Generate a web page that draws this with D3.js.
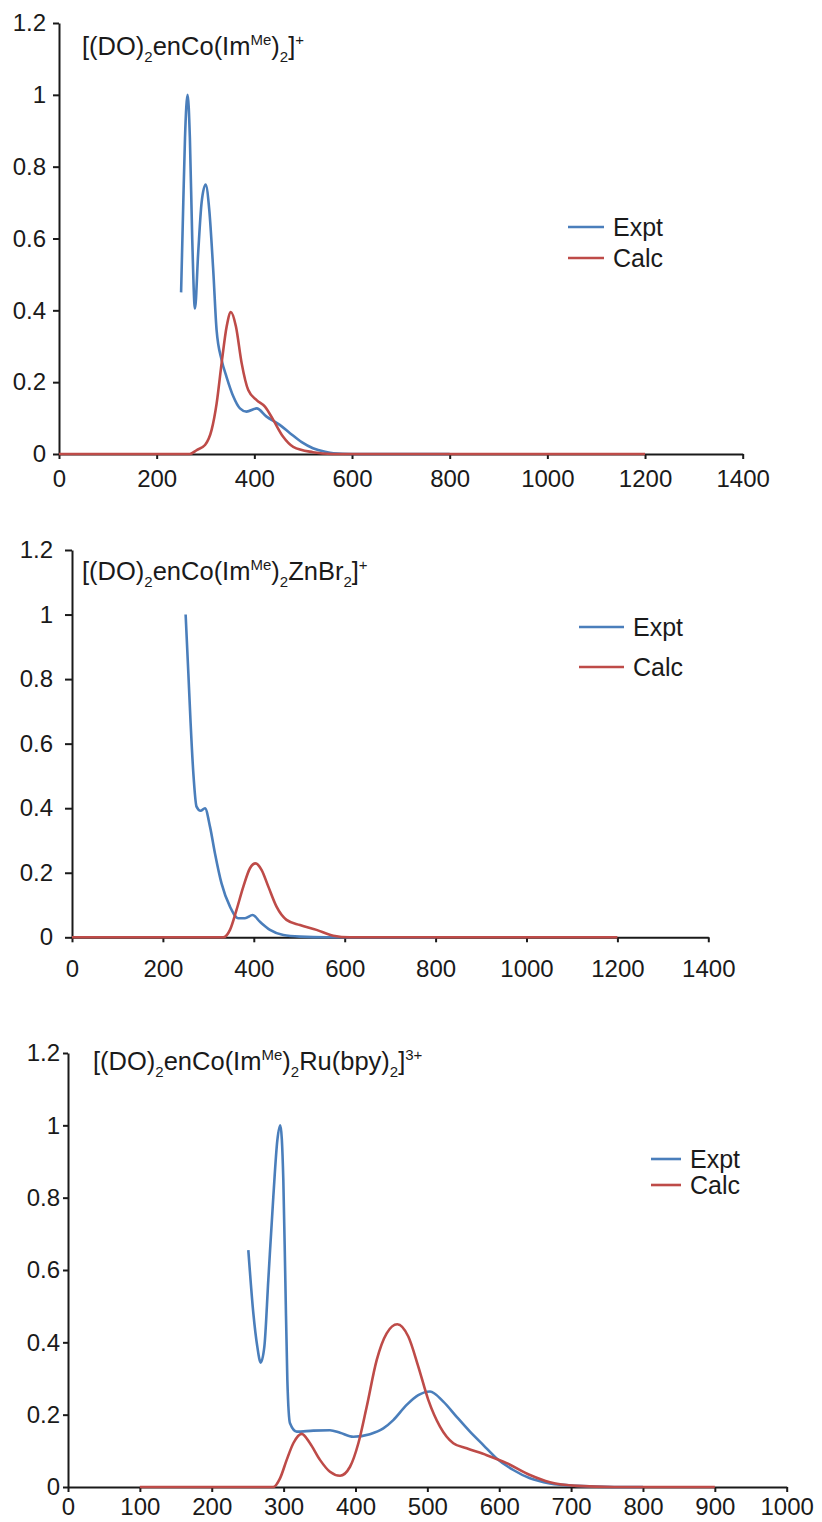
<!DOCTYPE html>
<html>
<head>
<meta charset="utf-8">
<script src="https://cdn.jsdelivr.net/npm/d3@7"></script>
<style>
body { margin: 0; background: #fff; }
text { font-family: "Liberation Sans", Arial, sans-serif; fill: #1a1a1a; }
</style>
</head>
<body>
<div id="drawarea"></div>
<script>
// Spectra: [wavelength nm, normalised absorbance]
let expt1 = [[250,0.45],[254.5,0.70],[258,0.88],[263.4,1.0],[268,0.88],[272.8,0.60],[278.4,0.405],
    [285,0.56],[292,0.70],[300.2,0.75],[307.7,0.68],[315.9,0.51],[322.7,0.345],[333,0.262],[343,0.215],
    [357,0.16],[370.5,0.127],[384,0.118],[404.7,0.127],[425,0.104],[452,0.081],[473,0.058],[497,0.033],
    [520,0.016],[545,0.006],[562,0.002],[600,0],[800,0]];
let calc1 = [[0,0],[268,0],[282,0.011],[299,0.025],[312.5,0.067],[322.8,0.141],[333,0.253],[343.3,0.355],
    [352,0.395],[362.3,0.355],[374,0.253],[387.5,0.178],[404.7,0.150],[421.7,0.132],[438.7,0.095],
    [459,0.048],[479.6,0.020],[520,0.005],[560,0],[1200,0]];

let expt2 = [[250,1.0],[256,0.818],[261,0.663],[267,0.508],[274,0.405],[283,0.392],[292.6,0.40],
    [303.6,0.343],[314.6,0.26],[329,0.167],[347.6,0.095],[366,0.059],[380.6,0.059],[397.5,0.069],
    [413.6,0.048],[435.6,0.023],[465,0.007],[501.6,0.002],[560,0],[800,0]];
let calc2 = [[0,0],[333,0],[347.6,0.023],[362,0.085],[377,0.157],[391.6,0.214],[404,0.229],[417,0.209],
    [432,0.157],[450,0.095],[472,0.054],[501.6,0.038],[538,0.023],[575,0.005],[611,0],[1200,0]];

let expt3 = [[250.9,0.655],[257.9,0.48],[263.4,0.388],[268.1,0.344],[273.2,0.388],[278.7,0.572],
    [285.7,0.803],[291.3,0.959],[295.4,1.0],[299.6,0.849],[302.4,0.572],[305.2,0.296],[308.9,0.176],
    [318.2,0.153],[341.3,0.156],[364.5,0.157],[378.5,0.15],[397,0.139],[420,0.146],[438.7,0.162],
    [452.6,0.185],[471.2,0.227],[487.4,0.254],[503.7,0.264],[522.2,0.236],[540.8,0.194],[559.3,0.153],
    [577.9,0.116],[596.5,0.079],[619.6,0.047],[642.8,0.024],[670.6,0.01],[707.8,0.003],[760,0],[800,0]];
let calc3 = [[100,0],[285.7,0],[295,0.024],[304.3,0.075],[313.5,0.121],[325.1,0.147],[336.7,0.121],
    [350.6,0.075],[364.5,0.042],[378.5,0.031],[392.4,0.056],[404,0.121],[415.6,0.222],[429.5,0.351],
    [443.4,0.425],[458.2,0.45],[473.5,0.416],[487.4,0.333],[501.3,0.241],[517.6,0.167],[536.1,0.121],
    [554.7,0.107],[582.6,0.088],[610.4,0.066],[642.8,0.033],[670.6,0.013],[708,0.003],[760,0],[900,0]];

let xTicksWide = [0,200,400,600,800,1000,1200,1400];
let xTicksNarrow = [0,100,200,300,400,500,600,700,800,900,1000];
let yTicks = [0,0.2,0.4,0.6,0.8,1,1.2];
let seriesNames = ["Expt","Calc"];
let seriesColors = ["#4a7ebb","#be4b48"];

// Titles as pieces: [text, "n" normal | "sub" | "sup"]
let title1 = [["[(DO)","n"],["2","sub"],["enCo(Im","n"],["Me","sup"],[")","n"],["2","sub"],["]","n"],["+","sup"]];
let title2 = [["[(DO)","n"],["2","sub"],["enCo(Im","n"],["Me","sup"],[")","n"],["2","sub"],["ZnBr","n"],["2","sub"],["]","n"],["+","sup"]];
let title3 = [["[(DO)","n"],["2","sub"],["enCo(Im","n"],["Me","sup"],[")","n"],["2","sub"],["Ru(bpy)","n"],["2","sub"],["]","n"],["3+","sup"]];

let svg = d3.select("div#drawarea").append("svg")
    .attr("width", 822)
    .attr("height", 1522);

let panels = [
    {expt: expt1, calc: calc1, title: title1, xMax: 1400, xTicks: xTicksWide,
     left: 59, right: 742.7, bottom: 454, top: 23, xPad: 11, yTick: 6, yPad: 7,
     titleX: 82, titleY: 55, legX: 568, legY: 227, legGap: 31, legLen: 36},
    {expt: expt2, calc: calc2, title: title2, xMax: 1400, xTicks: xTicksWide,
     left: 72, right: 708.3, bottom: 937.3, top: 550, xPad: 18, yTick: 7, yPad: 12,
     titleX: 82, titleY: 580, legX: 579, legY: 627, legGap: 40, legLen: 45},
    {expt: expt3, calc: calc3, title: title3, xMax: 1000, xTicks: xTicksNarrow,
     left: 68, right: 786.7, bottom: 1487, top: 1053, xPad: 6, yTick: 5, yPad: 3,
     titleX: 93, titleY: 1070, legX: 651, legY: 1159, legGap: 26, legLen: 30}
];

panels.forEach(p => {
    let x = d3.scaleLinear().domain([0, p.xMax]).range([p.left, p.right]);
    let y = d3.scaleLinear().domain([0, 1.2]).range([p.bottom, p.top]);
    let g = svg.append("g");

    //Axes, drawn first so the curves sit on top of the zero line
    let xAxis = g.append("g")
        .attr("transform", "translate(0," + p.bottom + ")")
        .call(d3.axisBottom(x).tickValues(p.xTicks).tickSize(5).tickSizeOuter(0)
            .tickPadding(p.xPad).tickFormat(d => String(d)));
    let yAxis = g.append("g")
        .attr("transform", "translate(" + p.left + ",0)")
        .call(d3.axisLeft(y).tickValues(yTicks).tickSize(p.yTick).tickSizeOuter(0)
            .tickPadding(p.yPad).tickFormat(d => String(d)));
    [xAxis, yAxis].forEach(a => {
        a.selectAll("path, line").attr("stroke", "#1a1a1a").attr("stroke-width", 2);
        a.selectAll("text").attr("font-size", 24).attr("fill", "#1a1a1a")
            .style("font-family", "'Liberation Sans', Arial, sans-serif");
    });

    let line = d3.line()
        .x(d => x(d[0]))
        .y(d => y(d[1]))
        .curve(d3.curveMonotoneX);

    [p.expt, p.calc].forEach((s, i) => {
        g.append("path")
            .attr("d", line(s))
            .attr("fill", "none")
            .attr("stroke", seriesColors[i])
            .attr("stroke-width", 2.6)
            .attr("stroke-linejoin", "round");
    });

    //Title with sub and superscripts
    let t = g.append("text")
        .attr("x", p.titleX)
        .attr("y", p.titleY)
        .attr("font-size", 25.5);
    let shift = 0;
    p.title.forEach(part => {
        let target = part[1] === "sub" ? 7 : (part[1] === "sup" ? -10 : 0);
        t.append("tspan")
            .attr("dy", target - shift)
            .attr("font-size", part[1] === "n" ? 25.5 : 15)
            .text(part[0]);
        shift = target;
    });

    //Legend
    seriesNames.forEach((name, i) => {
        let ly = p.legY + i * p.legGap;
        g.append("line")
            .attr("x1", p.legX).attr("x2", p.legX + p.legLen)
            .attr("y1", ly).attr("y2", ly)
            .attr("stroke", seriesColors[i])
            .attr("stroke-width", 2.6);
        g.append("text")
            .attr("x", p.legX + p.legLen + 9)
            .attr("y", ly + 9)
            .attr("font-size", 25)
            .text(name);
    });
});
</script>
</body>
</html>
